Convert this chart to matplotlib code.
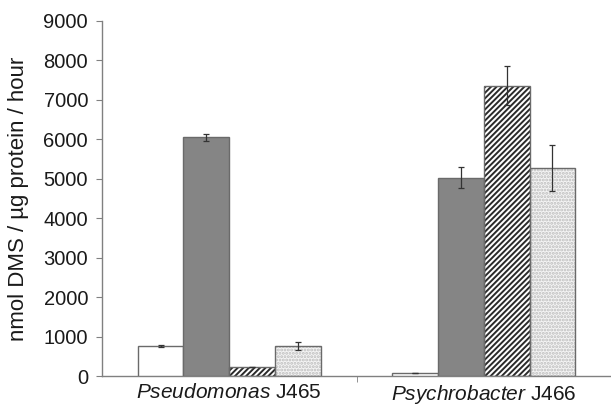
import numpy as np
import matplotlib
matplotlib.use('Agg')
from matplotlib import pyplot as plt

plt.rcParams['font.family'] = ['Liberation Sans', 'DejaVu Sans']
plt.rcParams['mathtext.fontset'] = 'custom'
plt.rcParams['mathtext.it'] = 'Liberation Sans:italic'
plt.rcParams['mathtext.rm'] = 'Liberation Sans'
plt.rcParams['hatch.linewidth'] = 1.4

strains = ['Pseudomonas', 'Psychrobacter']
strain_ids = ['J465', 'J466']
treatments = ['white', 'grey', 'hatched', 'dotted']
values = {
    'white': [760, 70],
    'grey': [6050, 5030],
    'hatched': [220, 7360],
    'dotted': [760, 5280],
}
errors = {
    'white': [20, 0],
    'grey': [80, 270],
    'hatched': [0, 500],
    'dotted': [110, 580],
}
y_ticks = list(range(0, 9001, 1000))

styles = {
    'white': dict(color='white', hatch=None, hatch_color=None),
    'grey': dict(color='#858585', hatch=None, hatch_color=None),
    'hatched': dict(color='white', hatch='//////', hatch_color='#2a2a2a'),
    'dotted': dict(color='#f4f4f4', hatch='.....', hatch_color='#bdbdbd'),
}

fig = plt.figure(figsize=(6.11, 4.05), dpi=100)
ax = fig.add_axes([102 / 611, 29 / 405, 509 / 611, 355 / 405])

bar_width = 0.18
index = np.arange(len(strains))
for i, t in enumerate(treatments):
    x = index + (i - 1.5) * bar_width
    st = styles[t]
    if st['hatch'] is not None:
        ax.bar(x, values[t], width=bar_width, color=st['color'],
               hatch=st['hatch'], edgecolor=st['hatch_color'], linewidth=0, zorder=2)
        ax.bar(x, values[t], width=bar_width, fill=False,
               edgecolor='#6a6a6a', linewidth=1.0, zorder=3)
    else:
        ax.bar(x, values[t], width=bar_width, color=st['color'],
               edgecolor='#6a6a6a', linewidth=1.0, zorder=3)
    ax.errorbar(x, values[t], yerr=errors[t], fmt='none', ecolor='#333333',
                elinewidth=0.9, capsize=2, capthick=0.9, zorder=4)

ax.set_xlim(-0.5, 1.5)
ax.set_ylim(0, 9000)
ax.set_yticks(y_ticks)
ax.set_yticklabels([str(v) for v in y_ticks], fontsize=14.5, color='#1a1a1a')
ax.set_xticks(index)
ax.set_xticklabels(['$\\it{' + n + '}$ ' + s for n, s in zip(strains, strain_ids)],
                   fontsize=15, color='#1a1a1a')
ax.tick_params(axis='x', which='major', length=0, pad=5)
ax.set_xticks([0.5], minor=True)
ax.tick_params(axis='x', which='minor', length=4, color='#808080', direction='out')
ax.tick_params(axis='y', length=4, color='#808080', direction='out', pad=6)

for s in ['top', 'right']:
    ax.spines[s].set_visible(False)
for s in ['left', 'bottom']:
    ax.spines[s].set_color('#808080')
    ax.spines[s].set_linewidth(1.0)

ax.set_ylabel('nmol DMS / µg protein / hour', fontsize=16, color='#1a1a1a')
ax.yaxis.set_label_coords(-0.143, 0.5)

fig.savefig('out.png', dpi=100)
